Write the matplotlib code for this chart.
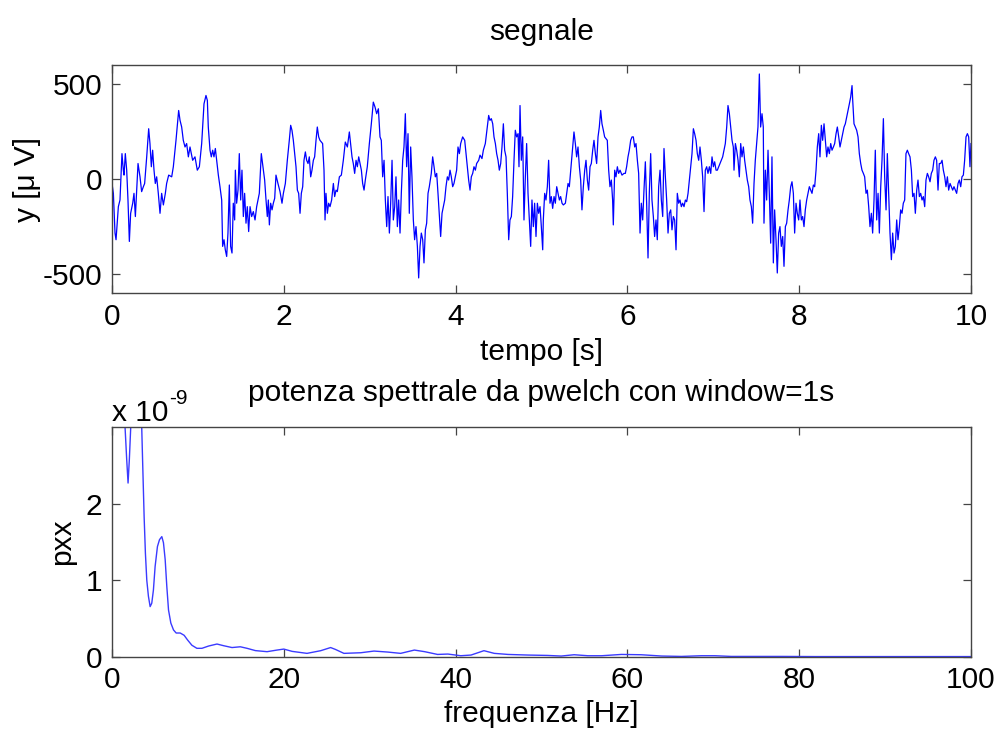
import matplotlib
matplotlib.use('Agg')
import matplotlib.pyplot as plt

plt.rcParams['font.family'] = ['Liberation Sans', 'DejaVu Sans']
plt.rcParams['axes.unicode_minus'] = False

# ---- segnale (time in s, amplitude in microvolt) ----
t_sig = [
    0.000, 0.016, 0.035, 0.047, 0.074, 0.093, 0.116, 0.132, 0.140, 0.155,
    0.171, 0.186, 0.202, 0.217, 0.241, 0.256, 0.272, 0.287, 0.303, 0.326,
    0.345, 0.365, 0.380, 0.404, 0.427, 0.442, 0.458, 0.473, 0.489, 0.504,
    0.520, 0.539, 0.559, 0.578, 0.598, 0.621, 0.636, 0.660, 0.695, 0.714,
    0.745, 0.776, 0.792, 0.811, 0.830, 0.850, 0.869, 0.889, 0.908, 0.939,
    0.966, 0.993, 1.017, 1.044, 1.071, 1.094, 1.110, 1.121, 1.141, 1.156,
    1.172, 1.187, 1.203, 1.218, 1.238, 1.257, 1.277, 1.288, 1.304, 1.319,
    1.335, 1.350, 1.366, 1.381, 1.397, 1.412, 1.428, 1.436, 1.451, 1.467,
    1.482, 1.498, 1.513, 1.529, 1.544, 1.560, 1.575, 1.591, 1.607, 1.626,
    1.645, 1.665, 1.684, 1.715, 1.738, 1.762, 1.777, 1.793, 1.808, 1.820,
    1.832, 1.847, 1.863, 1.878, 1.894, 1.909, 1.932, 1.956, 1.979, 1.995,
    2.018, 2.041, 2.064, 2.080, 2.095, 2.111, 2.127, 2.142, 2.158, 2.173,
    2.189, 2.204, 2.220, 2.235, 2.251, 2.266, 2.282, 2.297, 2.313, 2.328,
    2.344, 2.359, 2.375, 2.390, 2.406, 2.421,
    2.452, 2.468, 2.480, 2.491, 2.507, 2.522, 2.538, 2.557, 2.577, 2.592,
    2.608, 2.623, 2.647, 2.670, 2.693, 2.716, 2.740, 2.763, 2.778, 2.794,
    2.809, 2.825, 2.841, 2.856, 2.872, 2.887, 2.903, 2.918, 2.934, 2.949,
    2.972, 2.996, 3.019, 3.042, 3.062, 3.081, 3.101, 3.120, 3.135, 3.151,
    3.167, 3.182, 3.198, 3.213, 3.229, 3.244, 3.260, 3.275, 3.291, 3.306,
    3.322, 3.337, 3.353, 3.368, 3.384, 3.399, 3.415, 3.430, 3.446, 3.461,
    3.477, 3.492, 3.508, 3.523, 3.539, 3.555, 3.570, 3.586, 3.601, 3.617,
    3.632, 3.648, 3.663, 3.679, 3.694, 3.717, 3.733, 3.749, 3.764, 3.780,
    3.795, 3.811, 3.826, 3.842, 3.857, 3.873, 3.888, 3.904, 3.919, 3.935,
    3.950, 3.966, 3.981, 3.997, 4.012, 4.028, 4.044, 4.059, 4.082, 4.106,
    4.129, 4.152, 4.168, 4.183, 4.199, 4.214, 4.230, 4.245, 4.269, 4.284,
    4.307, 4.323, 4.346, 4.369, 4.385, 4.400, 4.416, 4.432, 4.447, 4.463,
    4.478, 4.494, 4.509, 4.525, 4.540, 4.556, 4.571, 4.587, 4.602, 4.618,
    4.633, 4.649, 4.664, 4.680, 4.695, 4.711, 4.727, 4.738, 4.750, 4.765,
    4.781, 4.796, 4.812, 4.827, 4.843, 4.858, 4.874, 4.889, 4.905, 4.920,
    4.936, 4.952, 4.967, 4.983, 4.998, 5.014,
    5.021, 5.037, 5.052, 5.068, 5.083, 5.099, 5.114, 5.130, 5.146, 5.161,
    5.177, 5.192, 5.208, 5.223, 5.239, 5.254, 5.278, 5.293, 5.309, 5.324,
    5.347, 5.363, 5.378, 5.394, 5.409, 5.425, 5.441, 5.456, 5.471, 5.487,
    5.503, 5.518, 5.534, 5.549, 5.565, 5.580, 5.596, 5.611, 5.627, 5.642,
    5.658, 5.673, 5.689, 5.704, 5.720, 5.735, 5.751, 5.766, 5.782, 5.797,
    5.813, 5.828, 5.836, 5.852, 5.867, 5.883, 5.898, 5.914, 5.937, 5.960,
    5.976, 5.991, 6.007, 6.022, 6.038, 6.054, 6.069, 6.085, 6.100, 6.116,
    6.131, 6.147, 6.162, 6.178, 6.193, 6.209, 6.224, 6.240, 6.255, 6.271,
    6.286, 6.302, 6.317, 6.333, 6.348, 6.364, 6.380, 6.395, 6.411, 6.426,
    6.442, 6.457, 6.473, 6.488, 6.504, 6.519, 6.535, 6.550, 6.566, 6.581,
    6.597, 6.612, 6.628, 6.643, 6.659, 6.675, 6.690, 6.706, 6.721, 6.737,
    6.752, 6.768, 6.783, 6.799, 6.814, 6.830, 6.845, 6.861, 6.876, 6.892,
    6.907, 6.923, 6.938, 6.954, 6.970, 6.985, 7.001, 7.016, 7.032, 7.047,
    7.063, 7.078, 7.094, 7.109, 7.125, 7.140, 7.156, 7.171, 7.187, 7.202,
    7.218, 7.233, 7.241, 7.257, 7.272, 7.288, 7.303, 7.319, 7.334, 7.350,
    7.365, 7.381, 7.396, 7.412, 7.427, 7.443, 7.458, 7.474, 7.489, 7.505,
    7.520, 7.536, 7.551, 7.567, 7.582,
    7.590, 7.606, 7.621, 7.637, 7.652, 7.668, 7.683, 7.699, 7.714, 7.730,
    7.745, 7.761, 7.776, 7.792, 7.808, 7.823, 7.839, 7.854, 7.870, 7.885,
    7.901, 7.916, 7.932, 7.947, 7.963, 7.978, 7.994, 8.009, 8.025, 8.040,
    8.056, 8.071, 8.087, 8.103, 8.118, 8.134, 8.149, 8.165, 8.180, 8.196,
    8.211, 8.227, 8.242, 8.258, 8.273, 8.289, 8.304, 8.320, 8.335, 8.351,
    8.367, 8.382, 8.398, 8.413, 8.429, 8.444, 8.460, 8.475, 8.491, 8.506,
    8.522, 8.537, 8.553, 8.568, 8.584, 8.599, 8.615, 8.623, 8.638, 8.654,
    8.669, 8.685, 8.700, 8.716, 8.731, 8.747, 8.762, 8.778, 8.793, 8.809,
    8.824, 8.840, 8.855, 8.871, 8.886, 8.902, 8.918, 8.933, 8.949, 8.964,
    8.980, 8.995, 9.011, 9.026, 9.042, 9.057, 9.073, 9.088, 9.104, 9.119,
    9.135, 9.150, 9.166, 9.181, 9.197, 9.212, 9.228, 9.243, 9.259, 9.274,
    9.290, 9.306, 9.321, 9.337, 9.352, 9.368, 9.383, 9.399, 9.414, 9.430,
    9.445, 9.461, 9.476, 9.492, 9.507, 9.523, 9.538, 9.554, 9.569, 9.585,
    9.600, 9.616, 9.631, 9.647, 9.663, 9.678, 9.694, 9.709, 9.725, 9.740,
    9.756, 9.771, 9.787, 9.802, 9.818, 9.833, 9.849, 9.864, 9.880, 9.895,
    9.911, 9.926, 9.942, 9.958, 9.973, 9.988, 10.000,
]
y_sig = [
    -23, -75, -284, -319, -145, -110, 134, 47, 21, 134,
    47, -110, -328, -180, -127, -75, -197, -58, 82, 12,
    -66, -40, -23, 117, 265, 187, 65, 152, 47, -23,
    12, -75, -180, -75, -136, -75, -23, 21, 12, 65,
    204, 361, 309, 274, 204, 169, 187, 117, 169, 99,
    117, 47, 65, 187, 396, 440, 414, 274, 152, 117,
    152, 117, 161, 99, 21, -40, -110, -354, -319, -372,
    -407, -284, -31, -354, -389, -127, -215, 47, -127, -58,
    134, -110, 47, -197, -75, -232, -145, -276, -145, -197,
    -171, -215, -145, -75, 134, 47, -5, -110, -197, -110,
    -241, -127, -162, -127, -101, 21, -23, -66, -127, -75,
    -23, 99, 204, 283, 257, 204, 134, 65, -58, -75,
    -180, -75, -40, 99, 143, 99, 82, 117, 12, 47,
    99, 117, 204, 274, 222, 204,
    187, 47, -215, -75, -180, -127, -145, -110, -23, -92,
    -58, -66, 12, 21, 99, 195, 169, 248, 187, 117,
    82, 30, 99, 65, 117, 82, 47, -23, -58, -5,
    65, 187, 291, 405, 379, 344, 370, 222, 204, 12,
    99, -110, -250, -92, -284, -127, 99, -215, -145, 12,
    -250, -110, -284, -75, 99, 169, 344, 65, 239, -180,
    169, 12, -215, -319, -250, -354, -520, -354, -284, -319,
    -441, -267, -232, -75, -40, 30, 117, 65, 12, 30,
    -75, -197, -302, -180, -145, -110, -40, 12, -5, 47,
    12, -40, -23, 12, 47, 169, 134, 187, 222, 204,
    99, -5, -58, 12, 30, 65, 47, 82, 99, 126,
    108, 152, 187, 274, 335, 309, 318, 291, 222, 187,
    134, 99, 47, 82, 169, 291, 152, 117, -75, -319,
    -215, -197, -92, 99, 257, 222, 239, 65, 387, 99,
    222, -215, 12, 187, -75, -215, -354, -110, -250, -127,
    -302, -127, -180, -145, -250, -372,
    -215, -75, -110, -40, 99, -127, -92, -154, -92, -127,
    -40, -75, -110, -92, -127, -136, -127, -75, -23, -40,
    82, 169, 248, 187, 117, 169, 65, -5, -162, -40,
    47, 99, -5, -58, 65, 82, 152, 204, 134, 82,
    222, 274, 361, 291, 257, 222, 213, 204, 47, -40,
    -5, -110, -241, 47, 12, 65, 30, 47, 21, 30,
    30, 65, 117, 152, 204, 222, 222, 169, 187, 99,
    30, -284, -127, -215, -58, 91, -127, -415, -75, 134,
    -110, -197, -302, -215, -319, -40, 47, -110, -197, 161,
    12, -110, -284, -180, -162, -267, -197, -215, -372, -75,
    -127, -110, -145, -127, -145, -110, -119, -75, -5, 65,
    134, 265, 239, 204, 134, 99, 169, 99, 12, -171,
    47, 65, 30, 65, 30, 117, 65, 91, 47, 47,
    65, 82, 99, 117, 152, 187, 274, 387, 344, 274,
    204, 169, 47, 187, 152, 99, 12, 187, 117, 169,
    99, 47, -5, -40, -110, -145, -232, -23, 99, 187,
    274, 553, 274, 344, 274,
    -232, 47, -110, 152, -75, -337, 117, -441, -162, -319,
    -494, -284, -250, -354, -302, -459, -250, -232, -162, -110,
    -40, -14, -75, -284, -127, -180, -215, -110, -215, -197,
    -250, -162, -110, -75, -40, -58, -75, -31, -40, 47,
    169, 239, 117, 283, 204, 291, 204, 117, 169, 134,
    187, 152, 169, 187, 239, 274, 222, 169, 204, 239,
    274, 291, 326, 361, 396, 431, 492, 414, 291, 274,
    257, 222, 134, 82, 47, 30, 12, -75, -58, -145,
    -250, -180, -284, -110, 152, -215, -75, -284, -40, 99,
    318, 12, -162, 134, -75, -284, -424, -284, -389, -354,
    -215, -319, -250, -162, -180, -127, -110, 134, 152, 134,
    117, 47, -92, -75, -180, -58, -5, -92, -75, -110,
    -92, -145, -5, 30, 12, -14, 30, 47, 99, 117,
    99, -58, 82, 82, 99, 47, 12, -40, 12, -58,
    -23, -40, -58, -40, -58, -75, -23, -5, -40, 12,
    21, 99, 222, 239, 222, 65, 187,
]

# ---- potenza spettrale (frequency in Hz, pxx in units of 1e-9) ----
freq = [
    0.5, 1.0, 1.52, 1.71, 1.87, 2.02, 2.18, 2.6, 3.0, 3.46,
    3.58, 3.74, 3.89, 4.05, 4.24, 4.44, 4.63, 4.82, 5.02, 5.29,
    5.53, 5.8, 5.99, 6.19, 6.38, 6.58, 6.85, 7.16, 7.47, 7.94,
    8.4, 8.79, 9.3, 9.88, 10.47, 11.25, 12.22, 13.0, 13.97, 14.94,
    15.72, 16.69, 18.05, 19.2, 20.0, 20.97, 22.7, 24.3, 25.45, 26.0,
    27.0, 28.95, 30.5, 32.1, 33.6, 35.2, 36.4, 37.9, 39.1, 40.6,
    41.8, 43.3, 44.5, 46.1, 48.4, 50.7, 52.3, 53.8, 55.4, 57.0,
    59.3, 61.6, 64.0, 66.3, 68.6, 70.2, 72.1, 74.1, 78.0, 81.9,
    85.8, 89.6, 95.0, 100.0,
]
pxx = [
    6.0, 4.5, 3.0, 2.58, 2.27, 2.58, 3.0, 5.5, 5.0, 3.0,
    2.49, 1.83, 1.35, 1.0, 0.79, 0.655, 0.70, 0.87, 1.18, 1.44,
    1.53, 1.57, 1.49, 1.27, 0.92, 0.61, 0.44, 0.35, 0.31, 0.31,
    0.28, 0.22, 0.15, 0.11, 0.11, 0.14, 0.166, 0.144, 0.12, 0.13,
    0.11, 0.08, 0.066, 0.087, 0.10, 0.07, 0.044, 0.079, 0.12, 0.096,
    0.044, 0.052, 0.074, 0.061, 0.044, 0.087, 0.066, 0.03, 0.035, 0.013,
    0.022, 0.079, 0.044, 0.03, 0.022, 0.017, 0.009, 0.026, 0.013, 0.013,
    0.03, 0.026, 0.009, 0.004, 0.013, 0.013, 0.004, 0.004, 0.004, 0.002,
    0.002, 0.002, 0.002, 0.002,
]

FS = 21.5
fig = plt.figure(figsize=(10, 7.31), dpi=100)
ax1 = fig.add_axes([0.112, 0.599, 0.859, 0.312])
ax2 = fig.add_axes([0.112, 0.1016, 0.859, 0.314])


def matlab_style(ax):
    for s in ax.spines.values():
        s.set_color('#444444')
        s.set_linewidth(1.0)
    ax.tick_params(direction='in', length=6, width=0.9, color='#444444',
                   top=True, right=True, labelsize=FS, pad=7)


# -- top: segnale --
ax1.plot(t_sig, y_sig, color='#0000ff', linewidth=0.9)
ax1.set_xlim(0, 10)
ax1.set_ylim(-600, 600)
ax1.set_xticks([0, 2, 4, 6, 8, 10])
ax1.set_yticks([-500, 0, 500])
ax1.set_title('segnale', fontsize=FS, pad=18)
ax1.set_xlabel('tempo [s]', fontsize=FS, labelpad=5)
ax1.set_ylabel('y [μ V]', fontsize=FS, labelpad=1)
matlab_style(ax1)

# -- bottom: pwelch --
ax2.plot(freq, pxx, color='#3a3aff', linewidth=1.0)
ax2.set_xlim(0, 100)
ax2.set_ylim(0, 3)
ax2.set_xticks([0, 20, 40, 60, 80, 100])
ax2.set_yticks([0, 1, 2])
ax2.set_title('potenza spettrale da pwelch con window=1s', fontsize=FS, pad=19)
ax2.set_xlabel('frequenza [Hz]', fontsize=FS, labelpad=4)
ax2.set_ylabel('pxx', fontsize=FS, labelpad=7)
matlab_style(ax2)
ax2.text(0.0, 1.0, 'x 10', transform=ax2.transAxes, fontsize=FS,
         ha='left', va='bottom')
ax2.text(0.067, 1.085, '-9', transform=ax2.transAxes, fontsize=15,
         ha='left', va='bottom')

fig.savefig('out.png', dpi=100)
